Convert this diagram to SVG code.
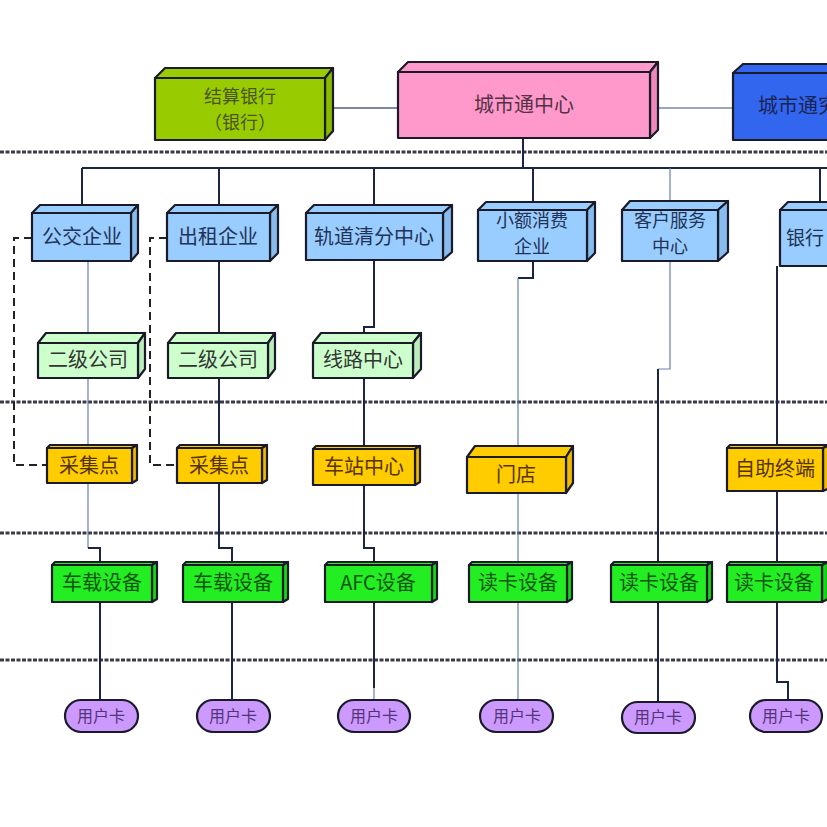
<svg xmlns="http://www.w3.org/2000/svg" width="827" height="827" viewBox="0 0 827 827">
<style>
.box{stroke:#1a1a28;stroke-width:2.2;stroke-linejoin:round}
.t{font-family:"Noto Sans CJK SC","Noto Sans CJK TC",sans-serif;font-size:20px;text-anchor:middle}
.t2{font-size:18px}
.c{font-size:16px}
.g1{fill:#99cc00}.g1s{fill:#88bb00}
.pk{fill:#ff99cc}.pks{fill:#f088bb}
.bl{fill:#3366ee}.bls{fill:#2a55d8}
.lb{fill:#99ccff}.lbs{fill:#88bbee}
.lg{fill:#ccffcc}.lgs{fill:#bbeebb}
.gd{fill:#ffcc00}.gds{fill:#eebb00}
.bg{fill:#22ee22}.bgs{fill:#11dd11}
.pu{fill:#cc99ff}
.layer{stroke:#3a3a48;stroke-width:3;stroke-dasharray:4 1.5;fill:none}
.dk{stroke:#1c2444;stroke-width:2;fill:none}
.th{stroke:#6a7fb0;stroke-width:1.2;fill:none}
.ds{stroke:#222;stroke-width:2;stroke-dasharray:8 5;fill:none}
</style>
<rect width="827" height="827" fill="#ffffff"/>
<g id="layers">
<line class="layer" x1="0" y1="152" x2="827" y2="152"/>
<line class="layer" x1="0" y1="402" x2="827" y2="402"/>
<line class="layer" x1="0" y1="533" x2="827" y2="533"/>
<line class="layer" x1="0" y1="660" x2="827" y2="660"/>
</g>
<g id="connectors">
<line x1="325" y1="108" x2="398" y2="108" stroke="#506080" stroke-width="1.5"/>
<line x1="650" y1="108" x2="733" y2="108" stroke="#7888a8" stroke-width="1.5"/>
<path class="dk" d="M523,138 V168 M82,168 H827 M82,168 V205 M219,168 V205 M374,168 V205 M533,168 V202 M820,168 V202"/>
<path class="th" d="M670,168 V201"/>
<path class="th" d="M88,261 V548"/>
<path class="dk" d="M88,548 H100 V565 M100,602 V700"/>
<path class="dk" d="M219,261 V548 H232 V565 M232,602 V700"/>
<path class="dk" d="M374,260 V327 H364 V548 H374 V565 M374,602 V688"/>
<path class="th" d="M374,688 V700"/>
<path class="dk" d="M533,261 V278 H518"/>
<path class="th" d="M518,278 V700"/>
<path class="th" d="M670,261 V369 H658"/>
<path class="dk" d="M658,369 V702"/>
<path class="dk" d="M777,266 V682 H788 V700"/>
<path class="ds" d="M32,238 H14 V465 H47"/>
<path class="ds" d="M167,238 H150 V465 H177"/>
</g>
<g id="n-jiesuan">
<polygon class="box g1" points="155,78 165,68 333,68 325,78"/>
<polygon class="box g1s" points="325,78 333,68 333,131 325,140"/>
<rect class="box g1" x="155" y="78" width="170" height="62"/>
<text class="t t2" x="240" y="103" fill="#4a5520">结算银行</text>
<text class="t t2" x="240" y="129" fill="#4a5520">（银行）</text>
</g>
<g id="n-center">
<polygon class="box pk" points="398,72 408,62 658,62 650,72"/>
<polygon class="box pks" points="650,72 658,62 658,130 650,138"/>
<rect class="box pk" x="398" y="72" width="252" height="66"/>
<text class="t" x="524" y="112" fill="#553344">城市通中心</text>
</g>
<g id="n-research">
<polygon class="box bl" points="733,73 743,64 840,64 840,73"/>
<rect class="box bl" x="733" y="73" width="110" height="67"/>
<text class="t" x="758" y="113" fill="#1a2455" style="text-anchor:start">城市通究</text>
</g>
<g id="n-bus">
<polygon class="box lb" points="32,213 40,205 138,205 131,213"/>
<polygon class="box lbs" points="131,213 138,205 138,253 131,261"/>
<rect class="box lb" x="32" y="213" width="99" height="48"/>
<text class="t" x="82" y="244" fill="#223355">公交企业</text>
</g>
<g id="n-taxi">
<polygon class="box lb" points="167,213 175,205 278,205 270,213"/>
<polygon class="box lbs" points="270,213 278,205 278,253 270,261"/>
<rect class="box lb" x="167" y="213" width="103" height="48"/>
<text class="t" x="218" y="244" fill="#223355">出租企业</text>
</g>
<g id="n-rail">
<polygon class="box lb" points="306,213 314,205 452,205 443,213"/>
<polygon class="box lbs" points="443,213 452,205 452,252 443,260"/>
<rect class="box lb" x="306" y="213" width="137" height="47"/>
<text class="t" x="374" y="244" fill="#223355">轨道清分中心</text>
</g>
<g id="n-small">
<polygon class="box lb" points="478,210 486,202 595,202 587,210"/>
<polygon class="box lbs" points="587,210 595,202 595,253 587,261"/>
<rect class="box lb" x="478" y="210" width="109" height="51"/>
<text class="t t2" x="532" y="227" fill="#223355">小额消费</text>
<text class="t t2" x="532" y="253" fill="#223355">企业</text>
</g>
<g id="n-service">
<polygon class="box lb" points="622,210 630,201 728,201 718,210"/>
<polygon class="box lbs" points="718,210 728,201 728,252 718,261"/>
<rect class="box lb" x="622" y="210" width="96" height="51"/>
<text class="t t2" x="670" y="227" fill="#223355">客户服务</text>
<text class="t t2" x="670" y="253" fill="#223355">中心</text>
</g>
<g id="n-bank">
<polygon class="box lb" points="780,210 788,202 840,202 840,210"/>
<rect class="box lb" x="780" y="210" width="60" height="56"/>
<text class="t" x="786" y="245" fill="#223355" style="text-anchor:start;font-size:19px">银行</text>
</g>
<g id="n-sub1">
<polygon class="box lg" points="38,343 46,333 145,333 138,343"/>
<polygon class="box lgs" points="138,343 145,333 145,369 138,378"/>
<rect class="box lg" x="38" y="343" width="100" height="35"/>
<text class="t" x="88" y="367" fill="#333">二级公司</text>
</g>
<g id="n-sub2">
<polygon class="box lg" points="168,343 176,333 275,333 268,343"/>
<polygon class="box lgs" points="268,343 275,333 275,369 268,378"/>
<rect class="box lg" x="168" y="343" width="100" height="35"/>
<text class="t" x="218" y="367" fill="#333">二级公司</text>
</g>
<g id="n-line">
<polygon class="box lg" points="313,343 321,333 421,333 413,343"/>
<polygon class="box lgs" points="413,343 421,333 421,369 413,378"/>
<rect class="box lg" x="313" y="343" width="100" height="35"/>
<text class="t" x="363" y="367" fill="#333">线路中心</text>
</g>
<g id="n-collect1">
<polygon class="box gd" points="47,448 50,445 137,445 132,448"/>
<polygon class="box gds" points="132,448 137,445 137,480 132,483"/>
<rect class="box gd" x="47" y="448" width="85" height="35"/>
<text class="t" x="89" y="473" fill="#553300">采集点</text>
</g>
<g id="n-collect2">
<polygon class="box gd" points="177,448 180,445 267,445 262,448"/>
<polygon class="box gds" points="262,448 267,445 267,480 262,483"/>
<rect class="box gd" x="177" y="448" width="85" height="35"/>
<text class="t" x="219" y="473" fill="#553300">采集点</text>
</g>
<g id="n-station">
<polygon class="box gd" points="313,449 316,446 420,446 415,449"/>
<polygon class="box gds" points="415,449 420,446 420,482 415,485"/>
<rect class="box gd" x="313" y="449" width="102" height="36"/>
<text class="t" x="364" y="474" fill="#553300">车站中心</text>
</g>
<g id="n-store">
<polygon class="box gd" points="467,457 475,446 573,446 566,457"/>
<polygon class="box gds" points="566,457 573,446 573,483 566,493"/>
<rect class="box gd" x="467" y="457" width="99" height="36"/>
<text class="t" x="516" y="482" fill="#553300">门店</text>
</g>
<g id="n-self">
<polygon class="box gd" points="727,448 730,445 830,445 823,448"/>
<polygon class="box gds" points="823,448 830,445 830,488 823,491"/>
<rect class="box gd" x="727" y="448" width="96" height="43"/>
<text class="t" x="775" y="476" fill="#553300">自助终端</text>
</g>
<g id="n-bus-dev1">
<polygon class="box bg" points="52,565 55,562 157,562 152,565"/>
<polygon class="box bgs" points="152,565 157,562 157,599 152,602"/>
<rect class="box bg" x="52" y="565" width="100" height="37"/>
<text class="t" x="102" y="590" fill="#115511">车载设备</text>
</g>
<g id="n-bus-dev2">
<polygon class="box bg" points="183,565 186,562 288,562 283,565"/>
<polygon class="box bgs" points="283,565 288,562 288,599 283,602"/>
<rect class="box bg" x="183" y="565" width="100" height="37"/>
<text class="t" x="233" y="590" fill="#115511">车载设备</text>
</g>
<g id="n-afc">
<polygon class="box bg" points="325,565 328,562 437,562 432,565"/>
<polygon class="box bgs" points="432,565 437,562 437,599 432,602"/>
<rect class="box bg" x="325" y="565" width="107" height="37"/>
<text class="t" x="378" y="590" fill="#115511">AFC设备</text>
</g>
<g id="n-reader1">
<polygon class="box bg" points="469,565 472,562 572,562 567,565"/>
<polygon class="box bgs" points="567,565 572,562 572,599 567,602"/>
<rect class="box bg" x="469" y="565" width="98" height="37"/>
<text class="t" x="518" y="590" fill="#115511">读卡设备</text>
</g>
<g id="n-reader2">
<polygon class="box bg" points="611,565 614,562 712,562 707,565"/>
<polygon class="box bgs" points="707,565 712,562 712,599 707,602"/>
<rect class="box bg" x="611" y="565" width="96" height="37"/>
<text class="t" x="659" y="590" fill="#115511">读卡设备</text>
</g>
<g id="n-reader3">
<polygon class="box bg" points="727,565 730,562 828,562 822,565"/>
<polygon class="box bgs" points="822,565 828,562 828,599 822,602"/>
<rect class="box bg" x="727" y="565" width="95" height="37"/>
<text class="t" x="774" y="590" fill="#115511">读卡设备</text>
</g>
<g id="n-card1"><rect class="box pu" x="65" y="700" width="73" height="32" rx="16"/><text class="t c" x="101" y="722" fill="#553377">用户卡</text></g>
<g id="n-card2"><rect class="box pu" x="197" y="700" width="73" height="32" rx="16"/><text class="t c" x="233" y="722" fill="#553377">用户卡</text></g>
<g id="n-card3"><rect class="box pu" x="338" y="700" width="72" height="32" rx="16"/><text class="t c" x="374" y="722" fill="#553377">用户卡</text></g>
<g id="n-card4"><rect class="box pu" x="480" y="700" width="73" height="32" rx="16"/><text class="t c" x="517" y="722" fill="#553377">用户卡</text></g>
<g id="n-card5"><rect class="box pu" x="622" y="702" width="73" height="31" rx="15.5"/><text class="t c" x="658" y="723" fill="#553377">用户卡</text></g>
<g id="n-card6"><rect class="box pu" x="750" y="700" width="72" height="32" rx="16"/><text class="t c" x="786" y="722" fill="#553377">用户卡</text></g>
</svg>
